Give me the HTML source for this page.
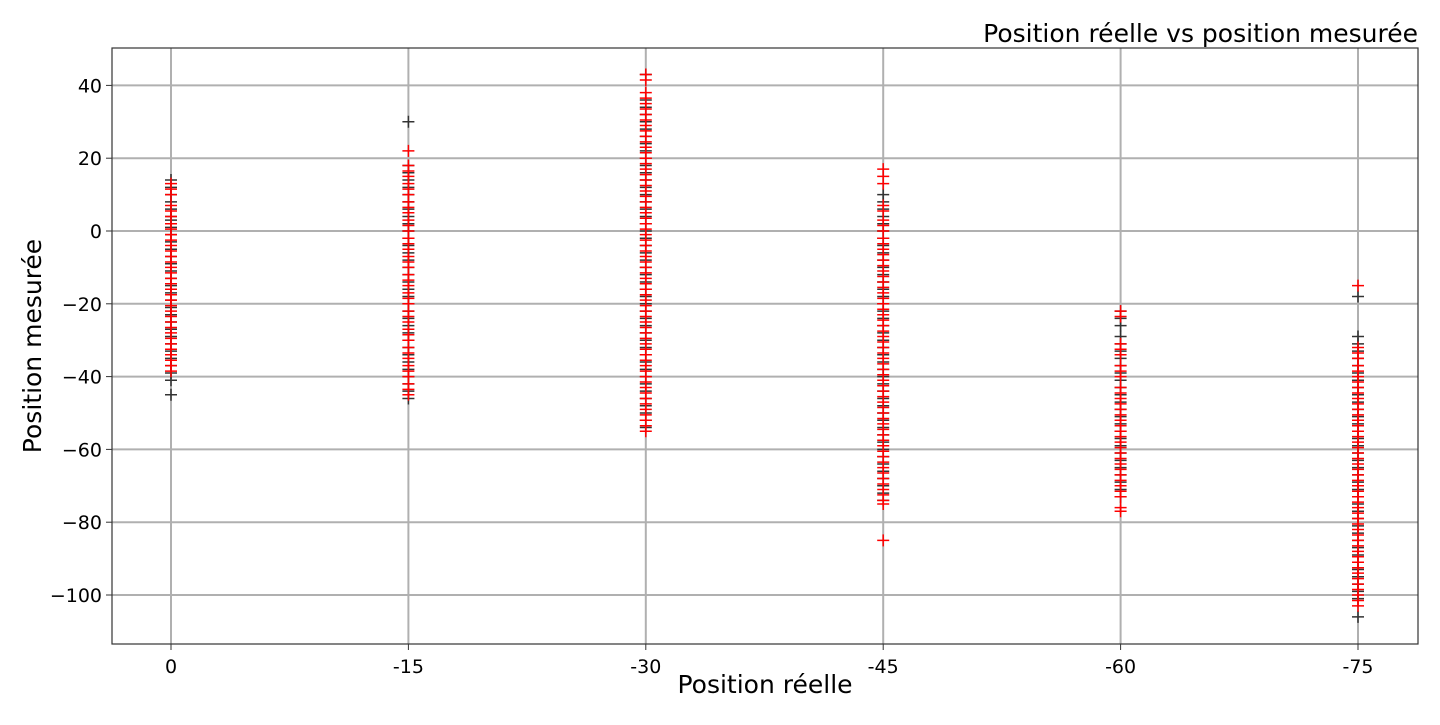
<!DOCTYPE html>
<html><head><meta charset="utf-8"><style>
body{margin:0;background:#fff;width:1440px;height:720px;overflow:hidden}
svg text{font-family:"DejaVu Sans","Liberation Sans",sans-serif;fill:#000}
</style></head><body>
<svg id="chart" width="1440" height="720" xmlns="http://www.w3.org/2000/svg">
<g id="grid"></g>
<g id="marks"></g>
<rect x="112" y="48" width="1306" height="596" fill="none" stroke="#333" stroke-width="1.2"/>
<g id="ticks"></g>
<text x="1418" y="42" text-anchor="end" font-size="25">Position réelle vs position mesurée</text>
<text x="765" y="693" text-anchor="middle" font-size="25">Position réelle</text>
<text transform="translate(41,346) rotate(-90)" text-anchor="middle" font-size="25">Position mesurée</text>
</svg>
<script>
const categories=["0","-15","-30","-45","-60","-75"];
const yTicks=[40,20,0,-20,-40,-60,-80,-100];
const black0=[14,12,10,8,6,4,3,1,-1,-3,-5,-7,-9,-11,-13,-15,-17,-19,-21,-23,-25,-27,-29,-31,-33,-35,-37,-39,-41,-45];
const red0=[13,11.5,10,7,5.5,4,2,0.5,-1,-2.5,-4,-5.5,-7,-8.5,-10,-11.5,-13,-14.5,-16,-17.5,-19,-20.5,-22,-23.5,-25,-26.5,-28,-29.5,-31,-32.5,-34,-35.5,-37,-38.5];
const black15=[30,18,16,14,12,10,8,6,4,2,0,-2,-4,-6,-8,-10,-12,-14,-16,-18,-20,-22,-24,-26,-28,-30,-32,-34,-36,-38,-40,-42,-44,-46];
const red15=[22,18,16.5,15,13,11.5,10,8,6.5,5,3,1.5,0,-2,-3.5,-5,-7,-8.5,-10,-12,-13.5,-15,-17,-18.5,-20,-22,-23.5,-25,-27,-28.5,-30,-32,-33.5,-35,-37,-38.5,-40,-42,-43.5,-45];
const black30=[43,36,34,32,30,28,26,24,22,20,18,16,14,12,10,8,6,4,2,0,-2,-4,-6,-8,-10,-12,-14,-16,-18,-20,-22,-24,-26,-28,-30,-32,-34,-36,-38,-40,-42,-44,-46,-48,-50,-52,-54];
const red30=[43,41.5,38,36.5,35,33.5,32,30.5,29,27.5,26,24.5,23,21.5,20,18.5,17,15.5,14,12.5,11,9.5,8,6.5,5,3.5,2,0.5,-1,-2.5,-4,-5.5,-7,-8.5,-10,-11.5,-13,-14.5,-16,-17.5,-19,-20.5,-22,-23.5,-25,-26.5,-28,-29.5,-31,-32.5,-34,-35.5,-37,-38.5,-40,-41.5,-43,-44.5,-46,-47.5,-49,-50.5,-52,-53.5,-55];
const black45=[10,8,6,4,2,0,-2,-4,-6,-8,-10,-12,-14,-16,-18,-20,-22,-24,-26,-28,-30,-32,-34,-36,-38,-40,-42,-44,-46,-48,-50,-52,-54,-56,-58,-60,-62,-64,-66,-68,-70,-72,-74];
const red45=[17,15,13,7,5.5,3,1.5,0,-2,-3.5,-5,-6.5,-8,-9.5,-11,-12.5,-14,-15.5,-17,-18.5,-20,-21.5,-23,-24.5,-26,-27.5,-29,-30.5,-32,-33.5,-35,-36.5,-38,-39.5,-41,-42.5,-44,-45.5,-47,-48.5,-50,-51.5,-53,-54.5,-56,-57.5,-59,-60.5,-62,-63.5,-65,-66.5,-68,-69.5,-71,-72.5,-74,-75,-85];
const black60=[-22,-24,-26,-29,-31,-33,-35,-37,-39,-41,-43,-45,-47,-49,-51,-53,-55,-57,-59,-61,-63,-65,-67,-69,-71,-73];
const red60=[-22,-23.5,-31,-32.5,-34,-37,-38.5,-40,-43,-44.5,-46,-47.5,-49,-50.5,-52,-53.5,-55,-56.5,-58,-59.5,-61,-62.5,-64,-65.5,-67,-68.5,-70,-71.5,-73,-76,-77];
const black75=[-18,-29,-31,-33,-35,-37,-39,-41,-43,-45,-47,-49,-51,-53,-55,-57,-59,-61,-63,-65,-67,-69,-71,-73,-75,-77,-79,-81,-83,-85,-87,-89,-91,-93,-95,-97,-99,-101,-106];
const red75=[-15,-32,-33.5,-35,-37,-38.5,-40,-41.5,-43,-44.5,-46,-47.5,-49,-50.5,-52,-53.5,-55,-56.5,-58,-59.5,-61,-62.5,-64,-65.5,-67,-68.5,-70,-71.5,-73,-74.5,-76,-77.5,-79,-80.5,-82,-83.5,-85,-86.5,-88,-89.5,-91,-92.5,-94,-95.5,-97,-98.5,-100,-101.5,-103];
const blackSeries=[black0,black15,black30,black45,black60,black75];
const redSeries=[red0,red15,red30,red45,red60,red75];

const NS="http://www.w3.org/2000/svg";
const x=i=>171+i*237.4;
const y=v=>231-v*3.64;
function mk(t,a,p){const e=document.createElementNS(NS,t);for(const k in a)e.setAttribute(k,a[k]);p.appendChild(e);return e;}
const grid=document.getElementById('grid'),ticks=document.getElementById('ticks'),marks=document.getElementById('marks');
categories.forEach((c,i)=>{
  const l=mk('line',{x1:x(i),x2:x(i),y1:48,y2:644,stroke:'#b0b0b0','stroke-width':2},grid);
  
  
  const tm=mk('line',{x1:x(i),x2:x(i),y1:644,y2:650,stroke:'#333'},ticks);
  
  
  const t=mk('text',{x:x(i),y:673,'text-anchor':'middle','font-size':19},ticks);
  t.textContent=c;
  
  
});
yTicks.forEach(v=>{
  const l=mk('line',{x1:112,x2:1418,y1:y(v),y2:y(v),stroke:'#b0b0b0','stroke-width':2},grid);
  
  
  const tm=mk('line',{x1:106,x2:112,y1:y(v),y2:y(v),stroke:'#333'},ticks);
  
  
  const t=mk('text',{x:102,y:y(v)+7,'text-anchor':'end','font-size':19},ticks);
  t.textContent=v<0?'\u2212'+(-v):String(v);
  
  
});
function plus(cx,cy,col){
  const p=mk('path',{d:`M${cx-6},${cy}H${cx+6}M${cx},${cy-6}V${cy+6}`,stroke:col,'stroke-width':1.5,fill:'none'},marks);
  
  
}
blackSeries.forEach((arr,i)=>arr.forEach(v=>plus(x(i),y(v),'#333')));
redSeries.forEach((arr,i)=>arr.forEach(v=>plus(x(i),y(v),'#ff0000')));
</script>
</body></html>
